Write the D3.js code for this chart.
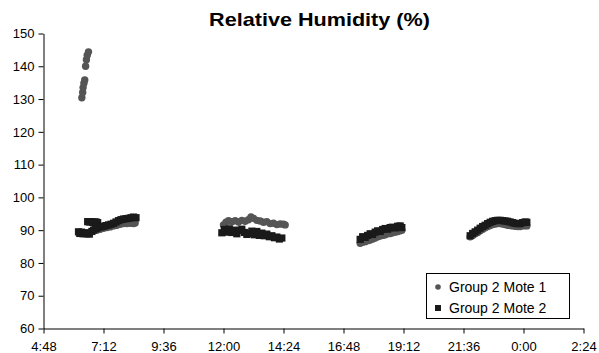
<!DOCTYPE html>
<html>
<head>
<meta charset="utf-8">
<script src="https://cdn.jsdelivr.net/npm/d3@7/dist/d3.min.js"></script>
<style>
  html, body { margin: 0; padding: 0; background: #fff; }
  svg { display: block; }
  text { font-family: "Liberation Sans", Arial, Helvetica, sans-serif; fill: #000; }
</style>
</head>
<body>
<svg id="chart" width="599" height="353"></svg>
<script>
// ---------------- DATA ----------------
const chartTitle = "Relative Humidity (%)";
const seriesNames = ["Group 2 Mote 1", "Group 2 Mote 2"];

const yTicks = [60, 70, 80, 90, 100, 110, 120, 130, 140, 150];
const xTickLabels = ["4:48", "7:12", "9:36", "12:00", "14:24", "16:48", "19:12", "21:36", "0:00", "2:24"];

// Group 2 Mote 1 (times of day, values in %)
const mote1Times = [
  "6:20","6:22","6:23","6:25","6:27","6:29","6:31","6:33","6:36",
  "6:56","7:04","7:12","7:20","7:28","7:36","7:44","7:52","8:00","8:08","8:16","8:24","8:28",
  "12:00","12:06","12:12","12:20","12:28","12:36","12:44","12:52","13:00","13:06","13:12","13:20","13:28","13:36","13:44","13:52","14:00","14:08","14:16","14:24","14:28",
  "17:28","17:34","17:40","17:46","17:52","17:58","18:04","18:10","18:16","18:22","18:28","18:34","18:40","18:46","18:52","18:58","19:04","19:08",
  "21:52","21:58","22:04","22:10","22:16","22:22","22:28","22:34","22:40","22:46","22:52","22:58","23:04","23:10","23:16","23:22","23:28","23:34","23:40","23:46","23:52","23:58","0:04","0:08"
];
const mote1Values = [
  130.4,132.0,133.5,134.8,135.8,140.0,142.0,143.4,144.4,
  90.0,90.3,90.6,90.8,91.0,91.3,91.5,91.8,92.0,92.0,92.1,92.0,92.2,
  91.6,92.4,92.9,92.6,92.9,92.5,93.0,92.7,93.2,94.0,93.6,93.0,92.8,92.4,92.6,92.0,92.1,91.7,91.9,91.8,91.6,
  86.0,86.3,86.5,86.8,87.0,87.3,87.6,88.0,88.2,88.4,88.6,88.9,89.0,89.2,89.4,89.6,89.8,90.0,
  88.0,88.4,88.9,89.3,89.8,90.3,90.7,91.1,91.4,91.7,91.9,92.0,92.0,91.9,91.7,91.5,91.4,91.3,91.2,91.1,91.1,91.3,91.4,91.3
];

// Group 2 Mote 2
const mote2Times = [
  "6:12","6:15","6:19","6:23","6:27","6:31","6:35","6:38",
  "6:34","6:38","6:42","6:46","6:50","6:54","6:58",
  "6:44","6:48","6:52","6:56","7:00","7:06","7:12","7:18","7:24","7:30","7:36","7:42","7:48","7:54","8:00","8:06","8:12","8:18","8:24","8:30",
  "11:56","12:02","12:08","12:14","12:20","12:26","12:32","12:38","12:44","12:50","12:56","13:02","13:08","13:14","13:20","13:26","13:32","13:38","13:44","13:50","13:56","14:02","14:08","14:14","14:20",
  "17:28","17:34","17:40","17:46","17:52","17:58","18:04","18:10","18:16","18:22","18:28","18:34","18:40","18:46","18:52","18:58","19:04","19:08",
  "21:52","21:58","22:04","22:10","22:16","22:22","22:28","22:34","22:40","22:46","22:52","22:58","23:04","23:10","23:16","23:22","23:28","23:34","23:40","23:46","23:52","23:58","0:04","0:08"
];
const mote2Values = [
  89.5,89.0,89.4,88.9,89.2,88.9,89.1,88.8,
  92.6,92.5,92.6,92.4,92.5,92.5,92.3,
  89.6,90.0,90.4,90.6,90.9,91.0,91.2,91.4,91.6,91.8,92.1,92.5,92.9,93.2,93.4,93.5,93.6,93.8,94.0,93.8,
  89.2,90.2,89.4,90.4,89.3,90.0,88.9,89.9,90.3,89.3,88.7,89.0,89.7,88.6,89.6,88.4,89.1,88.3,88.8,88.0,88.3,87.7,87.9,87.3,87.6,
  87.2,88.0,87.8,88.4,88.9,88.7,89.4,89.8,89.6,90.2,90.5,90.3,90.8,90.9,90.7,91.2,91.3,90.8,
  88.3,89.0,89.5,90.0,90.6,91.1,91.5,92.0,92.4,92.7,92.9,93.0,93.0,92.9,92.8,92.7,92.5,92.3,92.1,92.0,92.0,92.3,92.5,92.4
];

// ---------------- CHART ----------------
const colors = ["#555555", "#1a1a1a"];

function toHours(s) {
  const [h, m] = s.split(":").map(Number);
  let v = h + m / 60;
  if (v < 4.8) v += 24; // after midnight -> next day
  return v;
}

const svg = d3.select("#chart");
const plotLeft = 43.5, plotRight = 583.5, plotTop = 33.5, plotBottom = 328.5;

const xTickValues = xTickLabels.map(toHours);
const x = d3.scaleLinear().domain([xTickValues[0], xTickValues[xTickValues.length - 1]]).range([plotLeft, plotRight]);
const y = d3.scaleLinear().domain([60, 150]).range([plotBottom, plotTop]);

// Title
svg.append("g")
  .attr("transform", "translate(319.5,26) scale(1.2,1)")
  .append("text")
  .attr("text-anchor", "middle")
  .attr("font-size", 18)
  .attr("font-weight", "bold")
  .text(chartTitle);

// Axes
const yAxis = d3.axisLeft(y).tickValues(yTicks).tickSize(5).tickSizeOuter(0).tickPadding(4);
const gy = svg.append("g").attr("transform", `translate(${plotLeft},0)`).call(yAxis);
gy.selectAll("text").attr("font-size", 13).attr("font-family", '"Liberation Sans", Arial, sans-serif');

const xAxis = d3.axisBottom(x).tickValues(xTickValues).tickSize(5).tickSizeOuter(0).tickPadding(8)
  .tickFormat((d, i) => xTickLabels[i]);
const gx = svg.append("g").attr("transform", `translate(0,${plotBottom})`).call(xAxis);
gx.selectAll("text").attr("font-size", 13).attr("font-family", '"Liberation Sans", Arial, sans-serif');

svg.selectAll(".domain, .tick line").attr("stroke", "#000").attr("stroke-width", 1);

// Series data
const d1 = mote1Times.map((t, i) => ({ t: toHours(t), v: mote1Values[i] }));
const d2 = mote2Times.map((t, i) => ({ t: toHours(t), v: mote2Values[i] }));

// Series 1: circles
svg.append("g").selectAll("circle").data(d1).join("circle")
  .attr("cx", d => x(d.t))
  .attr("cy", d => y(d.v))
  .attr("r", 3.7)
  .attr("fill", colors[0]);

// Series 2: squares
const sq = 7.2;
svg.append("g").selectAll("rect").data(d2).join("rect")
  .attr("x", d => x(d.t) - sq / 2)
  .attr("y", d => y(d.v) - sq / 2)
  .attr("width", sq)
  .attr("height", sq)
  .attr("fill", colors[1]);

// Legend
const lg = svg.append("g");
lg.append("rect")
  .attr("x", 426.5).attr("y", 273.5).attr("width", 143).attr("height", 45)
  .attr("fill", "#fff").attr("stroke", "#000").attr("stroke-width", 1);
lg.append("circle").attr("cx", 438).attr("cy", 287).attr("r", 2.8).attr("fill", colors[0]);
lg.append("rect").attr("x", 435).attr("y", 305).attr("width", 6).attr("height", 6).attr("fill", colors[1]);
seriesNames.forEach((name, i) => {
  lg.append("text")
    .attr("x", 449).attr("y", 287 + i * 21)
    .attr("dy", "0.36em")
    .attr("font-size", 14)
    .text(name);
});
</script>
</body>
</html>
